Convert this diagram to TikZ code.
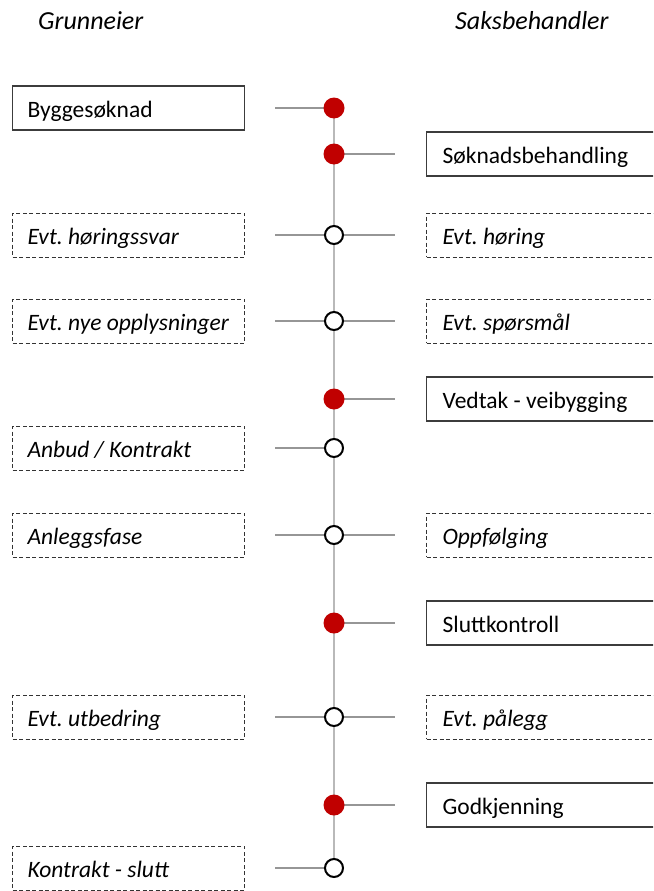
\documentclass[tikz,border=0pt]{standalone}
\usepackage{fontspec}
\setmainfont{Carlito}
\usetikzlibrary{backgrounds}
\definecolor{dotred}{RGB}{192,0,0}
\definecolor{stubgray}{RGB}{150,150,150}
\definecolor{vgray}{RGB}{185,185,185}
\definecolor{boxgray}{RGB}{60,60,60}
\frenchspacing
\tikzset{
  boxfont/.style={font=\fontsize{23.5}{28}\selectfont},
  lbox/.style={boxfont, anchor=west, minimum height=44pt, inner xsep=15pt, inner ysep=0pt,
    text height=20pt, text depth=2pt,
    execute at begin node={\hbox to 202pt\bgroup}, execute at end node={\hfil\egroup}},
  rbox/.style={boxfont, anchor=west, minimum height=44pt, inner xsep=16pt, inner ysep=0pt,
    text height=20pt, text depth=2pt,
    execute at begin node={\hbox to 240pt\bgroup}, execute at end node={\hfil\egroup}},
  solidbox/.style={draw=boxgray, line width=1.2pt},
  dashbox/.style={draw=black!80, line width=1pt, dash pattern=on 4pt off 2.5pt, font=\fontsize{23.5}{28}\selectfont\itshape},
  reddot/.style={circle, fill=dotred, minimum size=21pt, inner sep=0pt},
  opendot/.style={circle, draw=black, line width=2pt, fill=white, minimum size=18pt, inner sep=0pt},
  stub/.style={draw=stubgray, line width=2pt},
  vline/.style={draw=vgray, line width=2pt},
  header/.style={anchor=base west, inner sep=0pt, font=\fontsize{26}{30}\selectfont\itshape},
}
\begin{document}
\begin{tikzpicture}[x=1pt, y=-1pt]
\useasboundingbox (0,0) rectangle (653,891);
\clip (0,0) rectangle (653,891);

\node[header] (hg) at (38,30) {Grunneier};
\node[header] (hs) at (455,30) {Saksbehandler};

% row 1
\node[reddot] (d1) at (334,108) {};
\node[lbox, solidbox] (l1) at (12,108) {Byggesøknad};
% row 2
\node[reddot] (d2) at (334,154) {};
\node[rbox, solidbox] (r2) at (426,154) {Søknadsbehandling};
% row 3
\node[opendot] (d3) at (334,235) {};
\node[lbox, dashbox] (l3) at (12,235) {Evt. høringssvar};
\node[rbox, dashbox] (r3) at (426,235) {Evt. høring};
% row 4
\node[opendot] (d4) at (334,321) {};
\node[lbox, dashbox] (l4) at (12,321) {Evt. nye opplysninger};
\node[rbox, dashbox] (r4) at (426,321) {Evt. spørsmål};
% row 5
\node[reddot] (d5) at (334,399) {};
\node[rbox, solidbox] (r5) at (426,399) {Vedtak - veibygging};
% row 6
\node[opendot] (d6) at (334,448) {};
\node[lbox, dashbox] (l6) at (12,448) {Anbud / Kontrakt};
% row 7
\node[opendot] (d7) at (334,535) {};
\node[lbox, dashbox] (l7) at (12,535) {Anleggsfase};
\node[rbox, dashbox] (r7) at (426,535) {Oppfølging};
% row 8
\node[reddot] (d8) at (334,623) {};
\node[rbox, solidbox] (r8) at (426,623) {Sluttkontroll};
% row 9
\node[opendot] (d9) at (334,717) {};
\node[lbox, dashbox] (l9) at (12,717) {Evt. utbedring};
\node[rbox, dashbox] (r9) at (426,717) {Evt. pålegg};
% row 10
\node[reddot] (d10) at (334,805) {};
\node[rbox, solidbox] (r10) at (426,805) {Godkjenning};
% row 11
\node[opendot] (d11) at (334,868) {};
\node[lbox, dashbox] (l11) at (12,868) {Kontrakt - slutt};

\begin{scope}[on background layer]
  \draw[vline] (d1.center) -- (d11.center);
  \foreach \b/\d in {l1/d1, l3/d3, l4/d4, l6/d6, l7/d7, l9/d9, l11/d11}
    \draw[stub, shorten <=30pt] (\b.east) -- (\d.center);
  \foreach \d/\b in {d2/r2, d3/r3, d4/r4, d5/r5, d7/r7, d8/r8, d9/r9, d10/r10}
    \draw[stub, shorten >=31pt] (\d.center) -- (\b.west);
\end{scope}
\end{tikzpicture}
\end{document}
